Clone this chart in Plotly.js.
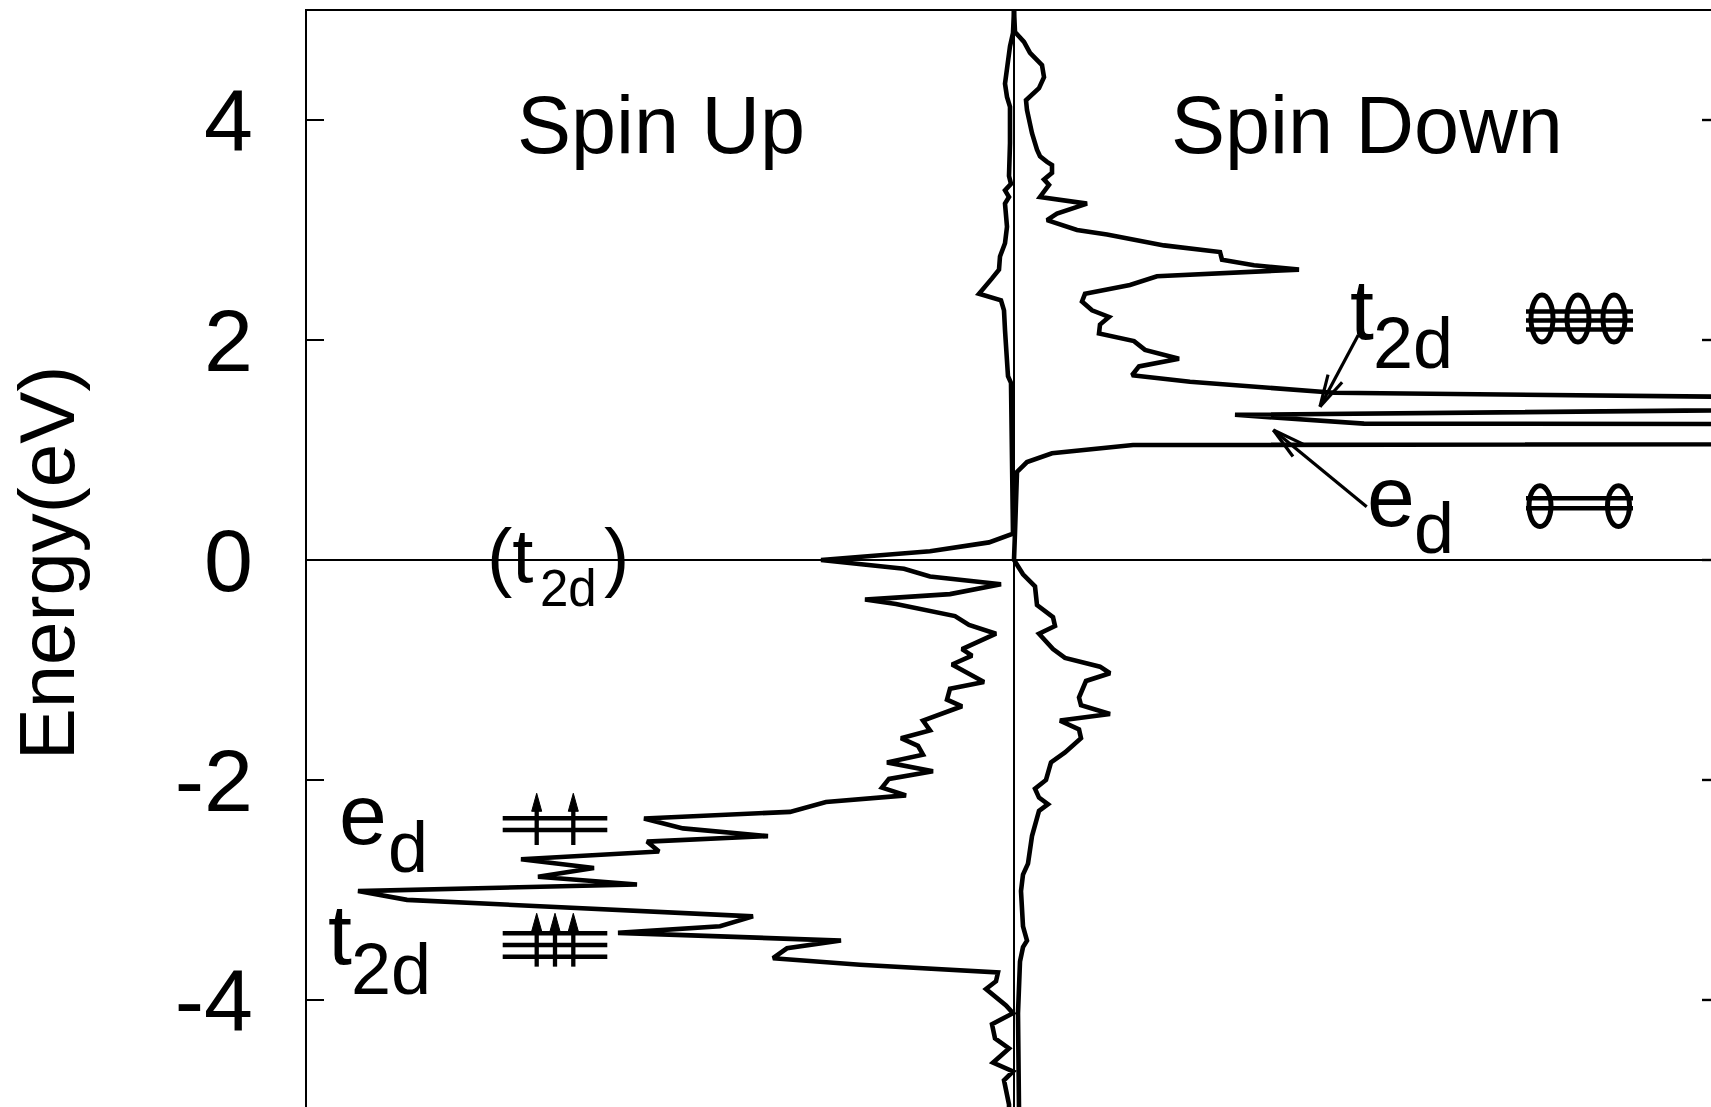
<!DOCTYPE html>
<html>
<head>
<meta charset="utf-8">
<script src="https://cdn.plot.ly/plotly-3.0.1.min.js"></script>
<style>
  html, body { margin: 0; padding: 0; background: #fff; overflow: hidden; }
  #chart { width: 1711px; height: 1107px; }
</style>
</head>
<body>
<div id="chart"></div>
<script>
/* ---- DOS (arbitrary units, spin up drawn to the left) ---- */
const spinUpE = [
  5.00, 4.79, 4.67, 4.49, 4.33, 4.21, 4.12, 3.79, 3.49, 3.42, 3.36, 3.30, 3.24, 3.03,
  2.88, 2.76, 2.64, 2.56, 2.42, 2.36, 2.27, 2.09, 1.82, 1.67, 1.61, 0.79, 0.24, 0.16,
  0.08, 0.00, -0.08, -0.15, -0.22, -0.31, -0.36, -0.40, -0.51, -0.59, -0.67, -0.81,
  -0.87, -0.95, -1.11, -1.17, -1.27, -1.33, -1.46, -1.55, -1.62, -1.69, -1.77, -1.84,
  -1.92, -1.99, -2.07, -2.14, -2.20, -2.29, -2.35, -2.44, -2.51, -2.56, -2.65, -2.72,
  -2.80, -2.88, -2.95, -3.01, -3.09, -3.24, -3.33, -3.39, -3.46, -3.53, -3.62, -3.68,
  -3.75, -3.83, -3.90, -4.05, -4.12, -4.22, -4.35, -4.44, -4.57, -4.65, -4.73, -4.95, -5.00,
];
const spinUpDos = [
  0.00, -0.01, -0.04, -0.07, -0.09, -0.07, -0.04, -0.04, -0.05, -0.03, -0.09, -0.05, -0.09, -0.07,
  -0.09, -0.14, -0.15, -0.22, -0.35, -0.13, -0.10, -0.09, -0.07, -0.06, -0.03, -0.02, -0.01, -0.25,
  -0.84, -1.93, -1.10, -0.84, -0.13, -0.64, -1.49, -1.18, -0.59, -0.45, -0.18, -0.52,
  -0.42, -0.62, -0.30, -0.64, -0.67, -0.52, -0.91, -0.84, -1.13, -0.96, -0.91, -1.27,
  -0.81, -1.25, -1.32, -1.08, -1.88, -2.24, -3.70, -3.31, -2.46, -3.67, -3.55, -4.93,
  -4.20, -4.76, -3.77, -6.56, -6.07, -2.61, -2.94, -3.96, -1.73, -2.27, -2.41, -1.54,
  -0.16, -0.18, -0.28, -0.08, -0.01, -0.22, -0.19, -0.05, -0.21, -0.01, -0.10, -0.05, -0.05,
];
const spinDownE = [
  5.00, 4.80, 4.71, 4.61, 4.50, 4.39, 4.29, 4.23, 4.18, 4.09, 3.88, 3.73, 3.67, 3.62,
  3.59, 3.52, 3.46, 3.41, 3.30, 3.24, 3.15, 3.09, 3.00, 2.96, 2.91, 2.86, 2.80, 2.73,
  2.68, 2.64, 2.58, 2.50, 2.46, 2.42, 2.35, 2.27, 2.21, 2.14, 2.06, 1.99, 1.91, 1.83,
  1.76, 1.68, 1.62, 1.52, 1.42, 1.32, 1.24, 1.15, 1.045, 0.97, 0.89, 0.80, 0.25, 0.00,
  -0.13, -0.24, -0.41, -0.52, -0.60, -0.67, -0.81, -0.89, -0.97, -1.03, -1.10, -1.25,
  -1.32, -1.40, -1.46, -1.54, -1.62, -1.75, -1.84, -2.00, -2.08, -2.16, -2.22, -2.28,
  -2.51, -2.76, -2.86, -3.01, -3.33, -3.46, -3.52, -3.65, -4.12, -5.00,
];
const spinDownDos = [
  0.00, 0.01, 0.10, 0.16, 0.28, 0.30, 0.25, 0.18, 0.12, 0.13, 0.18, 0.23, 0.26, 0.33,
  0.38, 0.38, 0.30, 0.35, 0.26, 0.73, 0.43, 0.33, 0.63, 0.93, 1.23, 1.50, 2.06, 2.08,
  2.40, 2.85, 1.43, 1.16, 0.93, 0.71, 0.68, 0.78, 0.95, 0.86, 0.85, 1.20, 1.31, 1.65,
  1.25, 1.18, 1.76, 3.20, 14.0, 2.21, 3.50, 80.0, 1.19, 0.38, 0.13, 0.03, 0.01, 0.00,
  0.09, 0.21, 0.23, 0.39, 0.41, 0.25, 0.39, 0.51, 0.86, 0.96, 0.72, 0.65,
  0.67, 0.96, 0.46, 0.65, 0.67, 0.51, 0.37, 0.32, 0.21, 0.25, 0.34, 0.25,
  0.18, 0.14, 0.09, 0.07, 0.09, 0.13, 0.09, 0.06, 0.04, 0.05,
];

const tickVals = [-4, -2, 0, 2, 4];
const tickLabels = ['-4', '-2', '0', '2', '4'];

/* ---- geometry ---- */
const W = 1711, H = 1107;
const MARGIN = { l: 307, r: 0, t: 11, b: 0 };
const X_RANGE = [-7.07, 6.97];
const Y_RANGE = [-4.973, 4.991];
const PX_X = (W - MARGIN.l - MARGIN.r) / (X_RANGE[1] - X_RANGE[0]);
const PX_Y = (H - MARGIN.t - MARGIN.b) / (Y_RANGE[1] - Y_RANGE[0]);
const FONT = 'Liberation Sans, Arial, Helvetica, sans-serif';

const traces = [
  { x: spinUpDos, y: spinUpE, name: 'Spin Up' },
  { x: spinDownDos, y: spinDownE, name: 'Spin Down' },
].map(t => ({
  ...t,
  type: 'scatter',
  mode: 'lines',
  line: { color: '#000', width: 4.6 },
  hoverinfo: 'skip',
  showlegend: false,
}));

/* ---- decorations: level diagrams, pointer arrows, right-hand ticks ---- */
const shapes = [];
const seg = (x0, y0, x1, y1, w) => ({
  type: 'line', xref: 'x', yref: 'y', x0, y0, x1, y1, line: { color: '#000', width: w },
});

// two barb points of an arrow head, computed in pixel space
function headPoints(tail, tip, len, half) {
  const dx = (tip[0] - tail[0]) * PX_X, dy = -(tip[1] - tail[1]) * PX_Y;
  const d = Math.hypot(dx, dy), ux = dx / d, uy = dy / d;
  const pt = (along, side) => [
    tip[0] + (-ux * along - uy * side) / PX_X,
    tip[1] - (-uy * along + ux * side) / PX_Y,
  ];
  return [pt(len, half), pt(len, -half)];
}

// occupied spin-up levels (left): lines + up arrows
const upLevels = [
  { lines: [-2.348, -2.455], arrows: [-4.773, -4.407], y0: -2.591, y1: -2.121 },
  { lines: [-3.394, -3.5, -3.606], arrows: [-4.773, -4.59, -4.407], y0: -3.697, y1: -3.212 },
];
upLevels.forEach(lv => {
  lv.lines.forEach(y => shapes.push(seg(-5.113, y, -4.067, y, 4.5)));
  lv.arrows.forEach(x => {
    const hl = 18 / PX_Y, hw = 5 / PX_X;
    shapes.push(seg(x, lv.y0, x, lv.y1 - hl * 0.8, 4.3));
    shapes.push({
      type: 'path', xref: 'x', yref: 'y',
      path: `M${x},${lv.y1} L${x - hw},${lv.y1 - hl} L${x + hw},${lv.y1 - hl} Z`,
      fillcolor: '#000', line: { color: '#000', width: 1 },
    });
  });
});

// empty spin-down levels (right): lines + open circles
const downLevels = [
  { lines: [2.258, 2.178, 2.096], circles: [5.28, 5.64, 6.0], yc: 2.195, ry: 0.214 },
  { lines: [0.561, 0.47], circles: [5.26, 6.045], yc: 0.49, ry: 0.186 },
];
downLevels.forEach(lv => {
  lv.lines.forEach(y => shapes.push(seg(5.12, y, 6.19, y, 4.5)));
  lv.circles.forEach(cx => shapes.push({
    type: 'circle', xref: 'x', yref: 'y',
    x0: cx - 0.11, x1: cx + 0.11, y0: lv.yc - lv.ry, y1: lv.yc + lv.ry,
    line: { color: '#000', width: 5 },
  }));
});

// pointer arrows for the t2d / ed peaks
const pointers = [
  { tail: [3.443, 2.045], tip: [3.06, 1.394] },
  { tail: [3.527, 0.485], tip: [2.593, 1.182] },
];
pointers.forEach(p => {
  shapes.push(seg(p.tail[0], p.tail[1], p.tip[0], p.tip[1], 3.2));
  headPoints(p.tail, p.tip, 32, 8).forEach(b => shapes.push(seg(p.tip[0], p.tip[1], b[0], b[1], 3.2)));
});

// ticks on the (cropped) right frame
tickVals.forEach(v => shapes.push({
  type: 'line', xref: 'paper', yref: 'y', x0: 1 - 9 / (W - MARGIN.l), x1: 1, y0: v, y1: v,
  line: { color: '#000', width: 2.4 },
}));

/* ---- text ---- */
const txt = (text, x, y, size, extra) => ({
  text, x, y, xref: 'x', yref: 'y', showarrow: false,
  xanchor: 'center', yanchor: 'middle',
  font: { family: FONT, size, color: '#000' }, ...extra,
});
const annotations = [
  txt('Spin Up', -3.53, 3.955, 81),
  txt('Spin Down', 3.53, 3.955, 81),
  txt('(t', -5.04, 0.044, 76),
  txt('2d', -4.46, -0.257, 51),
  txt(')', -3.975, 0.044, 76),
  txt('e', -6.515, -2.311, 86),
  txt('d', -6.065, -2.609, 72),
  txt('t', -6.745, -3.402, 86),
  txt('2d', -6.235, -3.718, 72),
  txt('t', 3.477, 2.28, 86),
  txt('2d', 3.993, 1.977, 72),
  txt('e', 3.768, 0.58, 86),
  txt('d', 4.202, 0.295, 72),
  txt('Energy(eV)', (47.4 - MARGIN.l) / (W - MARGIN.l), -0.027, 78, { xref: 'paper', textangle: -90 }),
];

const layout = {
  width: W,
  height: H,
  margin: MARGIN,
  paper_bgcolor: '#fff',
  plot_bgcolor: '#fff',
  font: { family: FONT, color: '#000' },
  showlegend: false,
  xaxis: {
    range: X_RANGE, side: 'top', showline: true, linecolor: '#000', linewidth: 2.5,
    ticks: '', showticklabels: false, showgrid: false,
    zeroline: true, zerolinecolor: '#000', zerolinewidth: 2, fixedrange: true,
  },
  yaxis: {
    range: Y_RANGE, tickvals: tickVals, ticktext: tickLabels,
    ticks: 'inside', ticklen: 17, tickwidth: 2.4, tickcolor: '#000',
    ticklabelstandoff: 34,
    tickfont: { family: FONT, size: 88, color: '#000' },
    showline: true, linecolor: '#000', linewidth: 2.5, showgrid: false,
    zeroline: true, zerolinecolor: '#000', zerolinewidth: 2, fixedrange: true,
  },
  shapes,
  annotations,
};

Plotly.newPlot('chart', traces, layout, { staticPlot: true, displayModeBar: false });
</script>
</body>
</html>
